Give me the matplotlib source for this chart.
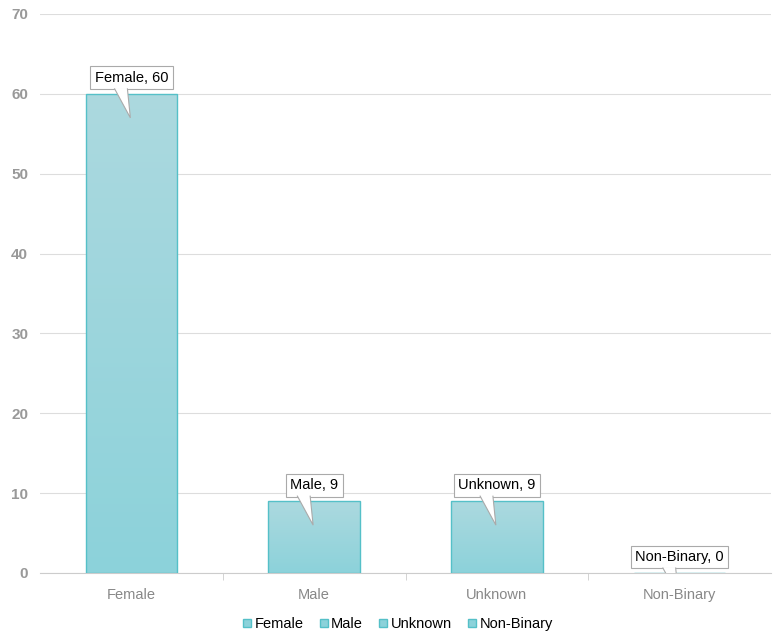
import numpy as np
import matplotlib.pyplot as plt
from matplotlib.patches import Polygon
from matplotlib.colors import LinearSegmentedColormap

plt.rcParams['font.family'] = ['Liberation Sans', 'DejaVu Sans']

categories = ["Female", "Male", "Unknown", "Non-Binary"]
counts = [60, 9, 9, 0]

fig = plt.figure(figsize=(7.73, 6.32), dpi=100)
ax = fig.add_axes([40 / 773, 59 / 632, 731 / 773, 559 / 632])

x = np.arange(len(categories))
bars = ax.bar(x, counts, width=0.5, color="none", edgecolor="#55c0c8", linewidth=1, zorder=3)

# vertical gradient inside each bar
cmap = LinearSegmentedColormap.from_list("g", ["#8cd2da", "#acd9df"])
grad = np.linspace(0, 1, 256).reshape(-1, 1)
for b in bars:
    h = b.get_height()
    if h <= 0:
        continue
    im = ax.imshow(grad, cmap=cmap, aspect="auto", origin="lower",
                   extent=[b.get_x(), b.get_x() + b.get_width(), 0, h], zorder=2)
    im.set_clip_path(b)

ax.set_xlim(-0.5, 3.5)
ax.set_ylim(0, 70)
ax.set_yticks(range(0, 71, 10))
ax.set_xticks(x)
ax.set_xticklabels(categories, color="#888888", fontsize=10.5)
ax.set_xticks([0.5, 1.5, 2.5], minor=True)
ax.tick_params(axis="x", which="major", length=0, pad=10.5)
ax.tick_params(axis="x", which="minor", length=5, color="#cccccc")
ax.tick_params(axis="y", length=0, pad=8.5, labelcolor="#999999", labelsize=11)
for t in ax.get_yticklabels():
    t.set_fontweight("bold")
ax.grid(axis="y", color="#dddddd", linewidth=0.8, zorder=0)
for s in ["top", "right", "left"]:
    ax.spines[s].set_visible(False)
ax.spines["bottom"].set_color("#cccccc")

# callout labels
inv = ax.transData.inverted()
for i, (c, v) in enumerate(zip(categories, counts)):
    ax.annotate(f"{c}, {v}", xy=(i, v), xytext=(0, 16), textcoords="offset pixels",
                ha="center", va="center", fontsize=10.5, color="#000000", zorder=6,
                bbox=dict(boxstyle="square,pad=0.3", fc="white", ec="#aaaaaa", lw=0.8))
    base = ax.transData.transform((i, v))
    pts = [(-17, 5.5), (-1, -24), (-4, 5.5)]
    poly = inv.transform([(base[0] + dx, base[1] + dy) for dx, dy in pts])
    ax.add_patch(Polygon(poly, closed=True, fc="white", ec="none", zorder=7))
    ax.add_patch(Polygon(poly, closed=False, fc="none", ec="#aaaaaa", lw=0.8, zorder=8))

# legend
handles = [plt.Line2D([], [], marker="s", linestyle="none", markersize=6,
                      markerfacecolor="#8cd2da", markeredgecolor="#55c0c8") for _ in categories]
fig.legend(handles, categories, loc="center", bbox_to_anchor=(397 / 773, 8 / 632), ncol=4,
           frameon=False, fontsize=10.5, handletextpad=0.1, columnspacing=1.0, handlelength=0.8)

fig.savefig("out.png", dpi=100)
